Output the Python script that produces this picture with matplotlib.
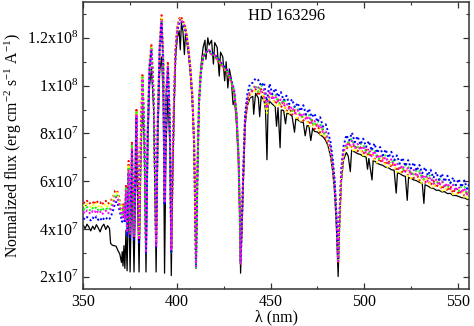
import numpy as np
import matplotlib
matplotlib.use("Agg")
import matplotlib.pyplot as plt
from matplotlib.ticker import MultipleLocator, FuncFormatter

plt.rcParams['font.family'] = ['Liberation Serif', 'DejaVu Serif']
plt.rcParams['mathtext.fontset'] = 'custom'
plt.rcParams['mathtext.rm'] = 'Liberation Serif'
plt.rcParams['mathtext.it'] = 'Liberation Serif:italic'

SCALE = 1e7  # flux lists below are in units of 1e7 erg/cm2/s/A

# model spectra wavelength grid (nm)
wl_model = [
    350, 351, 352, 353, 354, 355, 356, 357, 358, 359,
    360, 361, 362, 363, 364, 365, 366, 367, 368, 369,
    370, 370.8, 371.5, 372.2, 372.8, 373.4, 374.2, 375.0, 376.0, 377.1,
    378.4, 379.8, 380.7, 381.6, 382.6, 383.5, 384.4, 385.4, 386.4, 387.6,
    388.9, 389.8, 390.8, 391.8, 392.7, 393.4, 394.2, 395.2, 396.2, 397.0,
    397.7, 398.5, 399.3, 400.2, 401.2, 402.2, 403.2, 404.2, 405.2, 406.2,
    407.2, 408.2, 409.2, 410.2, 411.0, 411.8, 412.8, 414.0, 415.5, 417.0,
    418.5, 420.0, 421.5, 423.0, 424.5, 426.0, 427.5, 429.0, 430.5, 431.8,
    432.9, 433.6, 434.0, 434.6, 435.4, 436.4, 437.6, 439.0, 440.5, 442.0,
    443.5, 445.0, 446.5, 448.0, 449.5, 451.0, 452.5, 454.0, 455.5, 457.0,
    458.5, 460.0, 461.5, 463.0, 464.5, 466.0, 467.5, 469.0, 470.5, 472.0,
    473.5, 475.0, 476.5, 478.0, 479.5, 480.8, 482.0, 483.2, 484.3, 485.3,
    486.1, 486.9, 487.8, 489.0, 490.5, 492.0, 493.5, 495.0, 496.5, 498.0,
    499.5, 501.0, 502.5, 504.0, 505.5, 507.0, 508.5, 510.0, 511.5, 513.0,
    514.5, 516.0, 517.5, 519.0, 520.5, 522.0, 523.5, 525.0, 526.5, 528.0,
    529.5, 531.0, 532.5, 534.0, 535.5, 537.0, 538.5, 540.0, 541.5, 543.0,
    544.5, 546.0, 547.5, 549.0, 550.5, 552.0, 553.5, 555.0, 556.5, 558.0,
]

flux_red = [
    5.12, 5.08, 5.18, 5.05, 5.10, 5.15, 5.02, 5.20, 5.08, 5.12,
    5.00, 5.14, 5.18, 5.05, 5.10, 5.22, 5.35, 5.60, 5.62, 5.35,
    4.95, 4.65, 5.10, 4.55, 5.85, 3.95, 6.85, 3.90, 7.65, 3.80,
    9.05, 3.60, 7.70, 10.50, 8.20, 3.05, 8.20, 11.00, 11.75, 9.70,
    3.35, 8.70, 11.80, 12.95, 11.20, 5.20, 9.70, 11.00, 8.70, 3.15,
    6.60, 9.60, 11.60, 12.50, 12.80, 12.90, 12.70, 12.55, 12.15, 11.55,
    10.75, 9.65, 7.65, 2.45, 6.55, 9.35, 10.65, 11.25, 11.40, 11.45,
    11.30, 11.30, 11.05, 10.95, 10.75, 10.65, 10.45, 10.15, 9.75, 8.80,
    7.00, 4.60, 2.55, 4.00, 6.20, 8.55, 9.30, 9.65, 9.80, 9.85,
    9.58, 9.87, 9.48, 9.12, 9.43, 9.52, 9.23, 9.42, 9.08, 9.27,
    8.93, 9.12, 8.78, 8.97, 8.63, 8.82, 8.53, 8.67, 8.38, 8.57,
    8.18, 8.37, 8.03, 8.17, 7.78, 7.62, 7.25, 6.60, 5.70, 4.25,
    2.62, 4.50, 6.20, 7.25, 7.32, 7.58, 7.38, 7.52, 7.25, 7.42,
    7.13, 7.32, 7.03, 7.17, 6.93, 7.07, 6.78, 6.97, 6.68, 6.87,
    6.58, 6.77, 6.43, 6.62, 6.33, 6.52, 6.23, 6.42, 6.13, 6.32,
    6.03, 6.22, 5.93, 6.12, 5.83, 6.02, 5.73, 5.94, 5.66, 5.87,
    5.58, 5.80, 5.50, 5.72, 5.44, 5.64, 5.38, 5.57, 5.30, 5.52,
]

flux_yellow = [
    5.00, 4.95, 5.05, 4.98, 4.92, 5.03, 4.96, 5.08, 4.94, 5.00,
    4.90, 4.99, 5.05, 4.93, 4.98, 5.12, 5.28, 5.50, 5.52, 5.25,
    4.88, 4.60, 5.00, 4.50, 5.75, 3.90, 6.70, 3.85, 7.55, 3.75,
    8.95, 3.58, 7.60, 10.40, 8.10, 3.02, 8.10, 10.90, 11.65, 9.60,
    3.32, 8.60, 11.70, 12.85, 11.10, 5.15, 9.60, 10.90, 8.60, 3.12,
    6.55, 9.55, 11.55, 12.45, 12.75, 12.85, 12.65, 12.50, 12.10, 11.50,
    10.70, 9.60, 7.60, 2.45, 6.50, 9.30, 10.60, 11.20, 11.40, 11.45,
    11.30, 11.30, 11.05, 10.95, 10.75, 10.65, 10.45, 10.15, 9.75, 8.80,
    7.00, 4.65, 2.55, 4.00, 6.20, 8.50, 9.25, 9.62, 9.68, 9.82,
    9.77, 9.82, 9.43, 8.85, 9.62, 9.47, 9.18, 9.13, 9.27, 9.22,
    8.88, 8.83, 8.97, 8.92, 8.58, 8.53, 8.72, 8.62, 8.33, 8.28,
    8.37, 8.32, 7.98, 7.88, 7.97, 7.58, 7.20, 6.55, 5.65, 4.20,
    2.62, 4.50, 6.18, 7.08, 7.57, 7.52, 7.33, 7.23, 7.42, 7.37,
    7.08, 7.03, 7.22, 7.12, 6.88, 6.78, 6.97, 6.92, 6.63, 6.58,
    6.77, 6.72, 6.38, 6.33, 6.52, 6.47, 6.18, 6.13, 6.32, 6.27,
    5.98, 5.93, 6.12, 6.07, 5.78, 5.73, 5.92, 5.89, 5.61, 5.58,
    5.77, 5.75, 5.45, 5.43, 5.63, 5.59, 5.33, 5.28, 5.49, 5.47,
]

flux_green = [
    4.85, 4.80, 4.92, 4.83, 4.76, 4.88, 4.82, 4.93, 4.79, 4.86,
    4.74, 4.85, 4.90, 4.78, 4.83, 4.98, 5.15, 5.40, 5.45, 5.18,
    4.80, 4.55, 4.95, 4.45, 5.68, 3.85, 6.60, 3.80, 7.48, 3.70,
    8.88, 3.55, 7.55, 10.35, 8.05, 3.00, 8.05, 10.85, 11.55, 9.55,
    3.28, 8.55, 11.65, 12.75, 11.05, 5.10, 9.55, 10.85, 8.55, 3.05,
    6.50, 9.50, 11.50, 12.40, 12.70, 12.80, 12.60, 12.50, 12.10, 11.50,
    10.70, 9.60, 7.60, 2.40, 6.50, 9.30, 10.60, 11.20, 11.40, 11.50,
    11.30, 11.30, 11.10, 11.00, 10.80, 10.70, 10.50, 10.20, 9.80, 8.80,
    7.00, 4.70, 2.50, 4.00, 6.20, 8.65, 9.45, 9.82, 9.88, 10.02,
    9.73, 10.02, 9.87, 9.03, 9.58, 9.67, 9.62, 9.33, 9.23, 9.42,
    9.32, 9.03, 8.93, 9.12, 9.02, 8.73, 8.68, 8.82, 8.77, 8.48,
    8.33, 8.52, 8.42, 8.08, 7.93, 7.80, 7.40, 6.75, 5.85, 4.35,
    2.65, 4.65, 6.35, 7.27, 7.43, 7.72, 7.77, 7.45, 7.38, 7.57,
    7.52, 7.23, 7.18, 7.32, 7.32, 6.98, 6.93, 7.12, 7.07, 6.78,
    6.73, 6.92, 6.82, 6.53, 6.48, 6.67, 6.62, 6.33, 6.28, 6.47,
    6.42, 6.13, 6.08, 6.27, 6.22, 5.93, 5.88, 6.09, 6.05, 5.78,
    5.73, 5.95, 5.89, 5.63, 5.59, 5.79, 5.77, 5.48, 5.45, 5.67,
]

flux_blue = [
    4.45, 4.40, 4.50, 4.42, 4.36, 4.48, 4.40, 4.52, 4.38, 4.46,
    4.34, 4.44, 4.50, 4.38, 4.42, 4.58, 4.80, 5.10, 5.15, 4.90,
    4.55, 4.30, 4.70, 4.25, 5.45, 3.70, 6.35, 3.65, 7.25, 3.55,
    8.65, 3.45, 7.40, 10.20, 7.90, 2.95, 7.90, 10.70, 11.45, 9.40,
    3.25, 8.40, 11.50, 12.60, 10.90, 5.00, 9.40, 10.70, 8.40, 3.05,
    6.40, 9.40, 11.40, 12.30, 12.60, 12.70, 12.50, 12.40, 12.00, 11.40,
    10.60, 9.50, 7.50, 2.45, 6.40, 9.20, 10.50, 11.15, 11.40, 11.50,
    11.35, 11.35, 11.15, 11.05, 10.85, 10.75, 10.55, 10.25, 9.85, 8.85,
    7.05, 4.75, 2.60, 4.10, 6.30, 8.80, 9.65, 10.08, 10.12, 10.30,
    10.23, 9.98, 10.13, 9.35, 10.08, 9.63, 9.88, 9.53, 9.73, 9.38,
    9.58, 9.23, 9.43, 9.08, 9.28, 8.93, 9.18, 8.78, 9.03, 8.68,
    8.83, 8.48, 8.68, 8.28, 8.38, 8.05, 7.65, 6.95, 6.00, 4.45,
    2.70, 4.80, 6.55, 7.47, 7.93, 7.70, 8.03, 7.63, 7.88, 7.53,
    7.78, 7.43, 7.68, 7.28, 7.58, 7.18, 7.43, 7.08, 7.33, 6.98,
    7.23, 6.88, 7.08, 6.73, 6.98, 6.63, 6.88, 6.53, 6.78, 6.43,
    6.68, 6.33, 6.58, 6.23, 6.48, 6.13, 6.38, 6.05, 6.31, 5.98,
    6.23, 5.91, 6.15, 5.83, 6.09, 5.75, 6.03, 5.68, 5.95, 5.63,
]

flux_magenta = [
    4.72, 4.65, 4.78, 4.70, 4.62, 4.75, 4.68, 4.80, 4.66, 4.73,
    4.60, 4.71, 4.77, 4.64, 4.70, 4.85, 5.05, 5.30, 5.35, 5.10,
    4.75, 4.50, 4.90, 4.40, 5.60, 3.85, 6.50, 3.80, 7.40, 3.70,
    8.80, 3.55, 7.50, 10.30, 8.00, 3.00, 8.00, 10.80, 11.50, 9.50,
    3.30, 8.50, 11.60, 12.70, 11.00, 5.10, 9.50, 10.80, 8.50, 3.10,
    6.50, 9.50, 11.50, 12.40, 12.70, 12.80, 12.60, 12.50, 12.10, 11.50,
    10.70, 9.60, 7.60, 2.45, 6.50, 9.30, 10.60, 11.20, 11.40, 11.50,
    11.30, 11.30, 11.10, 11.00, 10.80, 10.70, 10.50, 10.20, 9.80, 8.80,
    7.00, 4.70, 2.55, 4.00, 6.20, 8.60, 9.40, 9.78, 9.82, 9.98,
    9.92, 9.72, 9.84, 9.05, 9.78, 9.40, 9.58, 9.30, 9.42, 9.14,
    9.27, 8.98, 9.12, 8.84, 8.97, 8.69, 8.86, 8.55, 8.72, 8.44,
    8.52, 8.24, 8.36, 8.05, 8.08, 7.75, 7.35, 6.70, 5.80, 4.30,
    2.65, 4.60, 6.30, 7.22, 7.60, 7.45, 7.70, 7.40, 7.56, 7.30,
    7.47, 7.19, 7.37, 7.04, 7.27, 6.94, 7.12, 6.84, 7.02, 6.74,
    6.92, 6.64, 6.77, 6.49, 6.67, 6.39, 6.57, 6.29, 6.47, 6.19,
    6.37, 6.09, 6.27, 5.99, 6.17, 5.89, 6.07, 5.81, 6.00, 5.74,
    5.92, 5.67, 5.84, 5.59, 5.78, 5.51, 5.72, 5.44, 5.64, 5.40,
]

# observed spectrum (black)
wl_obs = [
    350, 351, 352, 353, 354, 355, 356, 357, 358, 359,
    360, 361, 362, 363, 364, 364.6, 365.5, 366.5, 367.5, 368.5,
    369.5, 370.4, 370.8, 371.2, 371.7, 372.2, 372.8, 373.4, 374.2, 375.0,
    376.0, 377.1, 378.4, 379.8, 380.7, 381.6, 382.6, 383.5, 384.4, 385.4,
    386.4, 387.6, 388.9, 389.8, 390.8, 391.8, 392.7, 393.4, 394.2, 395.2,
    396.2, 397.0, 397.7, 398.5, 399.3, 400.2, 401.2, 401.8, 402.4, 403.2,
    404.0, 404.6, 405.2, 406.2, 407.2, 408.2, 409.2, 410.2, 411.0, 411.8,
    412.8, 414.0, 415.0, 415.5, 416.5, 417.2, 418.5, 419.5, 420.2, 421.5,
    422.6, 423.3, 424.5, 425.5, 426.3, 427.2, 428.0, 429.0, 430.0, 430.8,
    431.8, 432.9, 433.6, 434.0, 434.6, 435.4, 436.4, 437.6, 439.0, 440.5,
    441.0, 442.0, 443.5, 444.2, 445.0, 446.5, 447.3, 448.1, 448.7, 449.5,
    451.0, 452.5, 453.2, 454.0, 455.1, 455.7, 457.0, 458.0, 458.7, 460.0,
    461.5, 462.8, 463.5, 464.5, 466.0, 467.5, 468.5, 469.5, 470.5, 471.5,
    472.5, 473.5, 475.0, 476.5, 478.0, 479.5, 480.8, 482.0, 483.2, 484.3,
    485.3, 486.1, 486.9, 487.8, 489.0, 490.5, 491.5, 492.6, 493.3, 495.0,
    496.5, 498.0, 499.5, 501.0, 501.8, 502.5, 504.2, 504.8, 506.0, 507.0,
    508.5, 510.0, 511.5, 513.0, 514.5, 516.0, 517.1, 517.8, 519.0, 520.5,
    522.0, 523.0, 523.7, 525.0, 526.5, 528.0, 529.5, 531.0, 531.9, 532.5,
    534.0, 535.5, 537.0, 538.5, 540.0, 541.5, 543.0, 544.5, 546.0, 547.5,
    549.0, 550.5, 552.0, 553.5, 555.0, 556.5, 558.0,
]

flux_obs = [
    4.15, 4.02, 4.20, 4.08, 3.92, 4.12, 3.98, 4.18, 4.04, 3.88,
    4.10, 4.20, 3.98, 4.14, 4.02, 3.40, 3.32, 3.30, 3.28, 3.10,
    2.95, 2.60, 3.05, 2.45, 3.30, 2.35, 3.95, 2.25, 5.60, 2.20,
    6.30, 2.20, 7.70, 2.20, 6.80, 9.30, 7.50, 2.20, 7.40, 10.00,
    10.70, 9.00, 2.20, 7.80, 10.60, 11.20, 9.50, 2.15, 7.50, 9.60,
    7.50, 2.05, 6.00, 9.00, 11.20, 12.00, 12.30, 11.50, 12.60, 12.30,
    11.30, 12.20, 11.90, 11.30, 10.50, 9.40, 7.40, 2.35, 6.30, 9.30,
    10.80, 11.60, 11.90, 11.10, 12.00, 11.70, 11.90, 10.90, 11.80, 11.60,
    10.40, 11.40, 11.20, 10.20, 11.00, 9.90, 10.70, 10.30, 9.20, 9.40,
    8.40, 6.80, 4.40, 2.15, 3.70, 5.80, 8.30, 9.15, 9.48, 9.55,
    8.80, 9.68, 9.48, 8.70, 9.56, 9.38, 9.00, 6.90, 9.15, 9.34,
    9.22, 9.12, 8.30, 9.08, 7.40, 8.98, 8.96, 8.40, 8.84, 8.82,
    8.72, 8.05, 8.60, 8.57, 8.48, 8.46, 7.90, 8.33, 8.31, 7.70,
    8.22, 8.08, 8.06, 7.94, 7.86, 7.70, 7.45, 7.05, 6.40, 5.45,
    3.85, 2.01, 4.25, 5.95, 6.90, 7.20, 7.05, 6.40, 7.30, 7.22,
    7.15, 7.12, 7.04, 7.02, 6.50, 6.95, 6.05, 6.86, 6.82, 6.74,
    6.70, 6.66, 6.58, 6.56, 6.48, 6.46, 5.50, 6.35, 6.32, 6.24,
    6.20, 5.20, 6.15, 6.12, 6.05, 6.02, 5.95, 5.92, 5.07, 5.85,
    5.80, 5.72, 5.70, 5.62, 5.62, 5.55, 5.56, 5.48, 5.49, 5.40,
    5.40, 5.36, 5.31, 5.30, 5.24, 5.22, 5.20,
]

model_series = [
    (flux_red, '#ff0000'),
    (flux_yellow, '#ffff00'),
    (flux_green, '#00ff00'),
    (flux_blue, '#0000ff'),
    (flux_magenta, '#ff00ff'),
]


def sci_label(v, pos):
    if v <= 0:
        return ''
    exp = int(np.floor(np.log10(v) + 1e-9))
    mant = v / 10 ** exp
    return '%gx10$^{%d}$' % (round(mant, 2), exp)


fig = plt.figure(figsize=(4.74, 3.26), dpi=100)
ax = fig.add_axes([0.1757, 0.1144, 0.8138, 0.8795])

ax.plot(wl_obs, np.array(flux_obs) * SCALE, color='black', lw=0.9, zorder=2)
for flux, col in model_series:
    ax.plot(wl_model, np.array(flux) * SCALE, color=col, lw=1.4,
            ls=(0, (1, 1.3)), zorder=3)

ax.set_xlim(350, 556)
ax.set_ylim(1.5e7, 1.35e8)
ax.xaxis.set_major_locator(MultipleLocator(50))
ax.xaxis.set_minor_locator(MultipleLocator(25))
ax.yaxis.set_major_locator(MultipleLocator(2e7))
ax.yaxis.set_minor_locator(MultipleLocator(1e7))
ax.yaxis.set_major_formatter(FuncFormatter(sci_label))

ax.tick_params(which='both', direction='in', top=True, right=True,
               labelsize=11.5, color='#333333')
ax.tick_params(which='major', length=4.5, width=0.9)
ax.tick_params(which='minor', length=2.5, width=0.8)
for sp in ax.spines.values():
    sp.set_color('#333333')
    sp.set_linewidth(1.1)

ax.set_xlabel('λ (nm)', fontsize=11.5, labelpad=0)
ax.set_ylabel('Normalized flux (erg cm$^{-2}$ s$^{-1}$ A$^{-1}$)',
              fontsize=11.3, labelpad=2)
ax.text(0.528, 0.951, 'HD 163296', transform=ax.transAxes,
        ha='center', va='center', fontsize=11.8)

fig.savefig('out.png', dpi=100)
